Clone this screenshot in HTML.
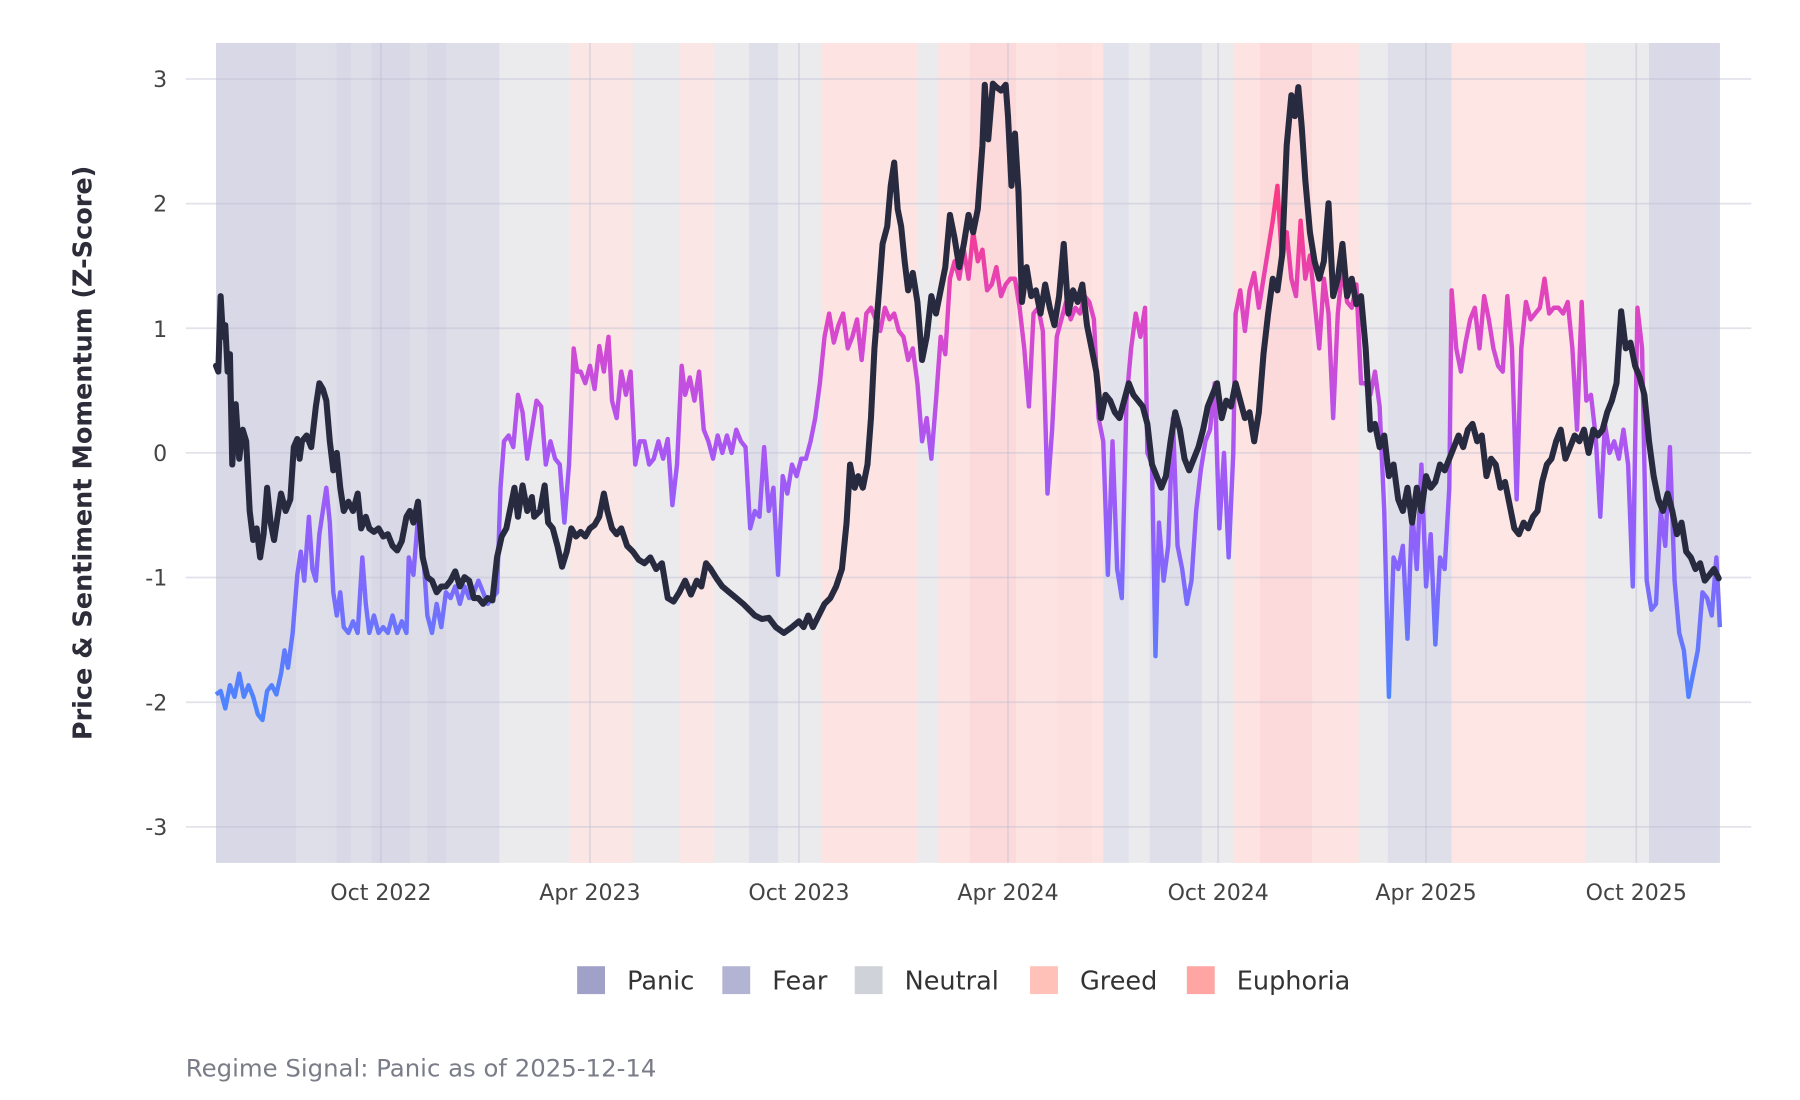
<!DOCTYPE html>
<html><head><meta charset="utf-8"><style>
html,body{margin:0;padding:0;background:#fff;width:1800px;height:1100px;overflow:hidden}
svg{display:block}
text{font-family:"DejaVu Sans","Liberation Sans",sans-serif}
</style></head><body>
<svg width="1800" height="1100" viewBox="0 0 1550 947.2" preserveAspectRatio="none" xmlns="http://www.w3.org/2000/svg">
<defs>
<linearGradient id="sg" gradientUnits="userSpaceOnUse" x1="0" y1="605" x2="0" y2="175">
<stop offset="0" stop-color="#4d84ff"/>
<stop offset="0.3" stop-color="#8a63fb"/>
<stop offset="0.5" stop-color="#a957f4"/>
<stop offset="0.75" stop-color="#d948cc"/>
<stop offset="1" stop-color="#fb3a86"/>
</linearGradient>
</defs>
<g>
<rect x="186" y="37" width="1295" height="706" fill="#ebebee"/>
<rect x="186" y="37" width="69" height="706" fill="#d8d8e6"/>
<rect x="255" y="37" width="27" height="706" fill="#dfdfea"/>
<rect x="282" y="37" width="148" height="706" fill="#dedee9"/>
<rect x="290" y="37" width="12" height="706" fill="#d8d8e6"/>
<rect x="320" y="37" width="33" height="706" fill="#d8d8e6"/>
<rect x="368" y="37" width="16" height="706" fill="#d8d8e6"/>
<rect x="490" y="37" width="55" height="706" fill="#fbe6e6"/>
<rect x="585" y="37" width="30" height="706" fill="#fbe6e6"/>
<rect x="645" y="37" width="25" height="706" fill="#dfdfea"/>
<rect x="708" y="37" width="82" height="706" fill="#fde4e2"/>
<rect x="808" y="37" width="142" height="706" fill="#fde4e2"/>
<rect x="835" y="37" width="40" height="706" fill="#fcdadb"/>
<rect x="910" y="37" width="30" height="706" fill="#fcdfdf"/>
<rect x="950" y="37" width="22" height="706" fill="#e2e2ec"/>
<rect x="990" y="37" width="45" height="706" fill="#dfdfea"/>
<rect x="1062" y="37" width="108" height="706" fill="#fde4e2"/>
<rect x="1085" y="37" width="45" height="706" fill="#fcdadb"/>
<rect x="1195" y="37" width="55" height="706" fill="#dfdfea"/>
<rect x="1250" y="37" width="115" height="706" fill="#fde6e4"/>
<rect x="1420" y="37" width="61" height="706" fill="#d9d9e7"/>
</g>
<g stroke="rgba(190,190,210,0.45)" stroke-width="1.5">
<line x1="160" y1="68" x2="1508" y2="68"/><line x1="160" y1="175.3" x2="1508" y2="175.3"/>
<line x1="160" y1="282.7" x2="1508" y2="282.7"/><line x1="160" y1="390" x2="1508" y2="390"/>
<line x1="160" y1="497.3" x2="1508" y2="497.3"/><line x1="160" y1="604.7" x2="1508" y2="604.7"/>
<line x1="160" y1="712" x2="1508" y2="712"/>
<line x1="328" y1="37" x2="328" y2="743"/><line x1="508" y1="37" x2="508" y2="743"/>
<line x1="688" y1="37" x2="688" y2="743"/><line x1="868" y1="37" x2="868" y2="743"/>
<line x1="1049" y1="37" x2="1049" y2="743"/><line x1="1228" y1="37" x2="1228" y2="743"/>
<line x1="1409" y1="37" x2="1409" y2="743"/>
</g>
<polyline fill="none" stroke="url(#sg)" stroke-width="3.8" stroke-linejoin="round" points="186,598 190,595 194,610 198,590 202,600 206,580 210,600 214,590 218,600 222,615 226,620 230,595 234,590 238,598 242,580 245,560 248,575 252,545 256,495 259,475 262,500 266,445 269,490 272,500 275,460 278,440 281,420 284,450 287,510 290,530 293,510 296,540 300,545 304,535 308,545 312,480 315,520 318,545 322,530 326,545 330,540 334,545 338,530 342,545 346,535 350,545 352,480 356,495 360,445 364,470 368,530 372,545 376,520 380,540 384,510 388,515 392,505 396,520 400,505 404,515 408,510 412,500 416,510 420,520 424,515 428,510 431,420 434,380 438,375 442,385 446,340 450,355 454,395 458,370 462,345 466,350 470,400 474,380 478,395 482,400 486,450 490,400 494,300 497,320 500,320 504,330 508,315 512,335 516,298 520,320 524,290 527,345 531,360 535,320 539,340 543,320 547,400 551,380 555,380 559,400 563,395 567,380 571,395 575,378 579,435 583,400 587,315 590,340 594,325 598,345 602,320 606,370 610,380 614,395 618,375 622,390 626,375 630,390 634,370 638,380 642,385 646,455 650,440 654,445 658,385 662,440 666,420 670,495 674,410 678,425 682,400 686,410 690,395 694,395 698,380 702,360 706,330 710,290 714,270 718,295 722,280 726,270 730,300 734,290 738,275 742,310 746,270 750,265 754,275 758,285 762,265 766,275 770,270 774,285 778,290 782,310 786,300 790,330 794,380 798,360 802,395 806,345 810,290 814,305 818,240 822,225 826,240 830,215 834,240 838,200 842,225 846,215 850,250 854,245 858,230 862,255 866,245 870,240 874,240 878,265 882,300 886,350 890,270 894,265 898,285 902,425 906,370 910,290 914,275 918,260 922,275 926,265 930,270 934,255 938,260 942,275 946,360 950,380 954,495 958,380 962,490 966,515 970,345 974,300 978,270 982,290 986,265 988,390 992,400 995,565 998,450 1002,500 1006,470 1010,360 1014,470 1018,490 1022,520 1026,500 1030,440 1034,405 1038,380 1042,370 1046,330 1050,455 1054,390 1058,480 1062,390 1064,270 1068,250 1072,285 1076,250 1080,235 1084,265 1088,240 1092,215 1096,190 1100,160 1104,225 1108,200 1112,240 1116,255 1120,190 1124,240 1128,220 1132,260 1136,300 1140,240 1144,270 1148,360 1152,270 1156,230 1160,260 1164,265 1168,245 1172,330 1176,330 1180,340 1184,320 1188,350 1192,440 1196,600 1200,480 1204,490 1208,470 1212,550 1216,440 1220,490 1224,400 1228,505 1232,460 1236,555 1240,480 1244,490 1248,420 1250,250 1254,300 1258,320 1262,295 1266,275 1270,265 1274,300 1278,255 1282,275 1286,300 1290,315 1294,320 1298,255 1302,300 1306,430 1310,300 1314,260 1318,275 1322,270 1326,265 1330,240 1334,270 1338,265 1342,265 1346,270 1350,260 1354,300 1358,370 1362,260 1366,345 1370,340 1374,375 1378,445 1382,365 1386,390 1390,380 1394,395 1398,370 1402,400 1406,505 1410,265 1414,300 1418,500 1422,525 1426,520 1430,440 1434,470 1438,385 1442,500 1446,545 1450,560 1454,600 1458,580 1462,560 1466,510 1470,515 1474,530 1478,480 1481,540"/>
<polyline fill="none" stroke="#282b40" stroke-width="5.2" stroke-linejoin="round" stroke-linecap="round" points="186,315 188,320 190,255 192,290 194,280 196,320 198,305 200,400 203,348 206,395 209,370 212,380 215,440 218,465 221,455 224,480 227,460 230,420 233,450 236,465 239,445 242,425 246,440 250,430 253,385 256,378 258,395 260,380 264,375 268,385 272,350 275,330 278,335 281,345 284,380 287,405 290,390 293,420 296,440 300,432 304,440 308,425 311,455 315,445 318,455 322,458 326,455 330,462 334,460 338,470 342,474 346,466 350,445 353,440 356,450 360,432 364,480 368,497 372,500 376,510 380,505 384,505 388,500 392,492 396,505 400,497 404,500 408,515 412,515 416,520 420,515 424,517 428,480 432,462 436,455 440,435 443,420 446,445 450,418 454,440 458,428 460,445 465,440 469,418 472,450 476,455 480,470 484,488 488,475 492,455 496,462 500,458 504,462 508,455 512,452 516,445 520,425 523,440 527,455 531,460 535,455 540,470 545,475 550,482 555,485 560,480 565,490 570,485 575,515 580,518 585,510 590,500 595,512 600,500 604,505 608,485 612,490 617,498 622,505 628,510 634,515 640,520 645,525 650,530 656,533 662,532 668,540 675,545 682,540 688,535 692,540 696,530 700,540 705,530 710,520 715,515 720,505 725,490 729,450 732,400 736,420 739,410 743,420 747,400 750,360 753,300 757,250 760,210 764,195 767,160 770,140 773,180 776,195 779,225 782,250 786,235 790,260 794,310 798,290 802,255 806,270 810,250 814,230 818,185 822,205 826,230 830,210 834,185 838,200 842,180 846,125 848,73 851,120 855,72 858,75 862,78 866,73 868,100 871,160 874,115 877,165 880,260 884,230 888,255 892,250 896,270 900,245 904,265 908,280 912,255 916,210 920,270 924,250 928,260 932,245 936,280 940,300 944,320 948,360 952,340 956,345 960,355 964,360 968,345 972,330 976,340 980,345 984,350 988,365 992,400 996,410 1000,420 1004,410 1008,380 1012,355 1016,370 1020,395 1024,405 1028,395 1032,385 1036,370 1040,350 1044,340 1048,330 1052,360 1056,345 1060,350 1064,330 1068,345 1072,360 1076,355 1080,380 1084,355 1088,305 1092,270 1096,240 1100,250 1104,220 1108,125 1112,82 1115,100 1118,75 1121,110 1124,155 1128,200 1132,225 1136,240 1140,225 1144,175 1148,255 1152,240 1156,210 1160,255 1164,240 1168,262 1172,255 1176,300 1180,370 1184,365 1188,385 1192,375 1196,410 1200,400 1204,430 1208,440 1212,420 1216,450 1220,420 1224,440 1228,410 1232,420 1236,415 1240,400 1244,405 1248,395 1252,385 1256,375 1260,385 1264,370 1268,365 1272,380 1276,375 1280,410 1284,395 1288,400 1292,420 1296,415 1300,435 1304,455 1308,460 1312,450 1316,455 1320,445 1324,440 1328,415 1332,400 1336,395 1340,380 1344,370 1348,395 1352,385 1356,375 1360,380 1364,370 1368,390 1372,370 1376,375 1380,370 1384,355 1388,345 1392,330 1396,268 1400,300 1404,295 1408,315 1412,325 1416,340 1420,380 1424,410 1428,430 1432,440 1436,425 1440,440 1444,460 1448,450 1452,475 1456,480 1460,490 1464,485 1468,500 1472,495 1476,490 1480,498"/>
<g fill="#444" font-size="19" text-anchor="end">
<text x="144" y="75">3</text><text x="144" y="182">2</text><text x="144" y="290">1</text>
<text x="144" y="397">0</text><text x="144" y="504">-1</text><text x="144" y="612">-2</text><text x="144" y="719">-3</text>
</g>
<g fill="#444" font-size="19" text-anchor="middle">
<text x="328" y="775">Oct 2022</text><text x="508" y="775">Apr 2023</text><text x="688" y="775">Oct 2023</text>
<text x="868" y="775">Apr 2024</text><text x="1049" y="775">Oct 2024</text><text x="1228" y="775">Apr 2025</text>
<text x="1409" y="775">Oct 2025</text>
</g>
<text transform="translate(79,390) rotate(-90)" text-anchor="middle" font-size="22" font-weight="bold" fill="#2d2d3a">Price &amp; Sentiment Momentum (Z-Score)</text>
<g font-size="22" fill="#333">
<rect x="497" y="832" width="24" height="24" fill="#a0a0c8"/><text x="540" y="852">Panic</text>
<rect x="622" y="832" width="24" height="24" fill="#b3b3d3"/><text x="665" y="852">Fear</text>
<rect x="736" y="832" width="24" height="24" fill="#cfd2d8"/><text x="779" y="852">Neutral</text>
<rect x="887" y="832" width="24" height="24" fill="#ffc1b8"/><text x="930" y="852">Greed</text>
<rect x="1022" y="832" width="24" height="24" fill="#ffa6a4"/><text x="1065" y="852">Euphoria</text>
</g>
<text x="160" y="927" font-size="21" fill="#7a7d88">Regime Signal: Panic as of 2025-12-14</text>
</svg>
</body></html>
